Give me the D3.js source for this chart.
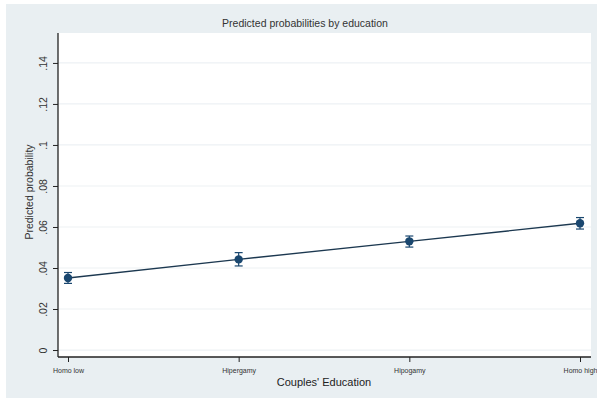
<!DOCTYPE html>
<html>
<head>
<meta charset="utf-8">
<script src="https://cdn.jsdelivr.net/npm/d3@7"></script>
<style>
  html, body { margin: 0; padding: 0; background: #ffffff; }
  svg { display: block; font-family: Arial, "Liberation Sans", sans-serif; }
</style>
</head>
<body>
<div id="chart"></div>
<script>
// values
const categories = ["Homo low", "Hipergamy", "Hipogamy", "Homo high"];
const predicted = [0.0351, 0.0442, 0.0530, 0.0618];
const lowerCI = [0.0325, 0.0410, 0.0502, 0.0590];
const upperCI = [0.0378, 0.0475, 0.0556, 0.0646];
const yTicks = [0, 0.02, 0.04, 0.06, 0.08, 0.1, 0.12, 0.14];
const yTickLabels = ["0", ".02", ".04", ".06", ".08", ".1", ".12", ".14"];

const W = 597, H = 401;
const navy = "#1a476f";

const svg = d3.select("#chart").append("svg")
    .attr("width", W).attr("height", H);

// stata-ish backdrop
svg.append("rect").attr("x", 6).attr("y", 4).attr("width", W - 6).attr("height", 394)
    .attr("fill", "#e9eff2");

const plot = {left: 58, top: 33, right: 591, bottom: 357};

svg.append("rect")
    .attr("x", plot.left).attr("y", plot.top)
    .attr("width", plot.right - plot.left).attr("height", plot.bottom - plot.top)
    .attr("fill", "#ffffff");

const x = d3.scalePoint().domain(categories).range([68, 580]);
const y = d3.scaleLinear().domain([-0.0034, 0.1546]).range([plot.bottom, plot.top]);

// grid
svg.append("g").selectAll("line").data(yTicks).join("line")
    .attr("x1", plot.left).attr("x2", plot.right)
    .attr("y1", d => y(d)).attr("y2", d => y(d))
    .attr("stroke", "#edf1f4").attr("stroke-width", 1.2);

// y axis
const yAxis = svg.append("g").attr("transform", `translate(${plot.left},0)`)
    .call(d3.axisLeft(y).tickValues(yTicks).tickSize(5).tickPadding(4)
        .tickFormat((d, i) => yTickLabels[i]));
yAxis.select(".domain").attr("d", `M0,${plot.top}V${plot.bottom}`).attr("stroke", "#222").attr("stroke-width", 1.3);
yAxis.selectAll(".tick line").attr("stroke", "#222");
yAxis.selectAll(".tick text")
    .attr("fill", "#333").attr("font-size", 10.5)
    .attr("text-anchor", "middle")
    .attr("x", 0).attr("dy", 0)
    .attr("transform", "translate(-14,0) rotate(-90)")
    .attr("dominant-baseline", "middle");

// x axis
const xAxis = svg.append("g").attr("transform", `translate(0,${plot.bottom})`)
    .call(d3.axisBottom(x).tickSize(5).tickPadding(6));
xAxis.select(".domain").attr("d", `M${plot.left},0H${plot.right}`).attr("stroke", "#222").attr("stroke-width", 1.3);
xAxis.selectAll(".tick line").attr("stroke", "#222");
xAxis.selectAll(".tick text").attr("fill", "#333").attr("font-size", 7);

// error bars
const caps = svg.append("g");
categories.forEach((c, i) => {
    caps.append("line")
        .attr("x1", x(c)).attr("x2", x(c))
        .attr("y1", y(lowerCI[i])).attr("y2", y(upperCI[i]))
        .attr("stroke", navy).attr("stroke-width", 1.2);
    [lowerCI[i], upperCI[i]].forEach(v => {
        caps.append("line")
            .attr("x1", x(c) - 4).attr("x2", x(c) + 4)
            .attr("y1", y(v)).attr("y2", y(v))
            .attr("stroke", navy).attr("stroke-width", 1.2);
    });
});

// connecting line
const line = d3.line().x((d, i) => x(categories[i])).y(d => y(d));
svg.append("path").datum(predicted)
    .attr("d", line).attr("fill", "none")
    .attr("stroke", "#1c3850").attr("stroke-width", 1.4);

// markers
svg.append("g").selectAll("circle").data(predicted).join("circle")
    .attr("cx", (d, i) => x(categories[i])).attr("cy", d => y(d))
    .attr("r", 4.2).attr("fill", navy);

// titles
svg.append("text").attr("x", 305).attr("y", 27)
    .attr("text-anchor", "middle").attr("font-size", 10.5).attr("fill", "#333")
    .text("Predicted probabilities by education");

svg.append("text").attr("x", 324).attr("y", 386)
    .attr("text-anchor", "middle").attr("font-size", 11).attr("fill", "#222")
    .text("Couples' Education");

svg.append("text")
    .attr("transform", "translate(33,192) rotate(-90)")
    .attr("text-anchor", "middle").attr("font-size", 10.5).attr("fill", "#333")
    .text("Predicted probability");
</script>
</body>
</html>
